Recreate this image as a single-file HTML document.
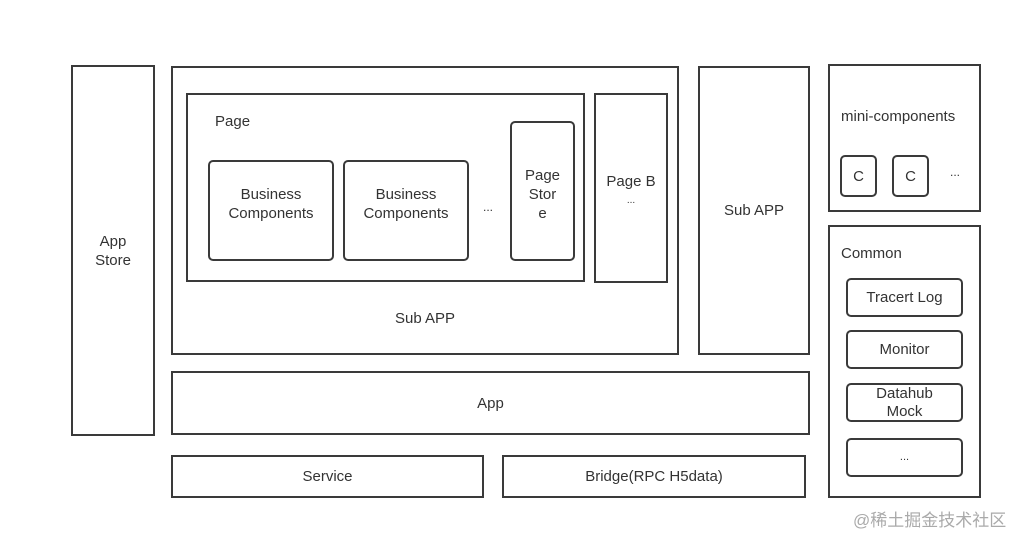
<!DOCTYPE html>
<html><head><meta charset="utf-8"><style>
body{margin:0;width:1020px;height:534px;background:#fff;position:relative;overflow:hidden;font-family:"Liberation Sans","Noto Sans CJK SC",sans-serif;color:#333;font-size:15px}
.b{position:absolute;box-sizing:border-box;border:2px solid #3a3a3a;display:flex;align-items:center;justify-content:center;text-align:center;line-height:19px}
.r{border-radius:5px}
.t{position:absolute;font-size:15px}
</style></head><body>
<div class="b" style="left:71px;top:65px;width:84px;height:371px">App<br>Store</div>
<div class="b" style="left:171px;top:66px;width:508px;height:289px;align-items:flex-end;padding-bottom:25px">Sub APP</div>
<div class="b" style="left:186px;top:93px;width:399px;height:189px"></div>
<div class="t" style="left:215px;top:113px">Page</div>
<div class="b r" style="left:208px;top:160px;width:126px;height:101px;align-items:flex-start;padding-top:23px">Business<br>Components</div>
<div class="b r" style="left:343px;top:160px;width:126px;height:101px;align-items:flex-start;padding-top:23px">Business<br>Components</div>
<div class="t" style="left:483px;top:200px;font-size:12px">...</div>
<div class="b r" style="left:510px;top:121px;width:65px;height:140px;align-items:flex-start;padding-top:43px">Page<br>Stor<br>e</div>
<div class="b" style="left:594px;top:93px;width:74px;height:190px;align-items:flex-start;padding-top:78px;line-height:17px"><div>Page B<br><span style="font-size:10px">...</span></div></div>
<div class="b" style="left:698px;top:66px;width:112px;height:289px">Sub APP</div>
<div class="b" style="left:171px;top:371px;width:639px;height:64px">App</div>
<div class="b" style="left:171px;top:455px;width:313px;height:43px">Service</div>
<div class="b" style="left:502px;top:455px;width:304px;height:43px">Bridge(RPC H5data)</div>
<div class="b" style="left:828px;top:64px;width:153px;height:148px"></div>
<div class="t" style="left:841px;top:108px">mini-components</div>
<div class="b r" style="left:840px;top:155px;width:37px;height:42px">C</div>
<div class="b r" style="left:892px;top:155px;width:37px;height:42px">C</div>
<div class="t" style="left:950px;top:165px;font-size:12px">...</div>
<div class="b" style="left:828px;top:225px;width:153px;height:273px"></div>
<div class="t" style="left:841px;top:245px">Common</div>
<div class="b r" style="left:846px;top:278px;width:117px;height:39px">Tracert Log</div>
<div class="b r" style="left:846px;top:330px;width:117px;height:39px">Monitor</div>
<div class="b r" style="left:846px;top:383px;width:117px;height:39px;line-height:18px">Datahub<br>Mock</div>
<div class="b r" style="left:846px;top:438px;width:117px;height:39px;font-size:11px">...</div>
<div class="t" style="left:853px;top:506px;font-size:17px;color:#aaa">@稀土掘金技术社区</div>
</body></html>
